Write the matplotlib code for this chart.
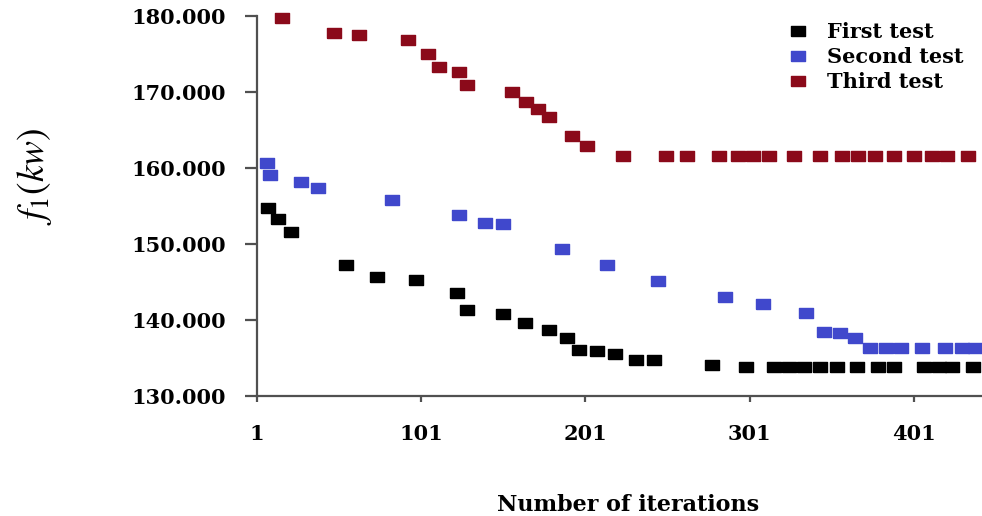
#!/usr/bin/env python3
# -*- encoding: utf-8 -*-

import matplotlib
matplotlib.use('Agg')
import matplotlib.pyplot as plt
from matplotlib.ticker import FormatStrFormatter

# iterations / objective values
first_it = [8, 14, 22, 55, 74, 98, 123, 129, 151, 164, 179, 190, 197, 208, 219, 232, 243,
            278, 299, 316, 325, 334, 344, 354, 366, 379, 389, 407, 416, 424, 437]
first_val = [154.8, 153.25, 151.6, 147.3, 145.6, 145.3, 143.55, 141.3, 140.75, 139.6, 138.7,
             137.6, 136.0, 135.9, 135.5, 134.7, 134.7, 134.1, 133.8, 133.8, 133.8, 133.8,
             133.8, 133.8, 133.8, 133.8, 133.8, 133.8, 133.8, 133.8, 133.8]

second_it = [7, 9, 28, 38, 83, 124, 140, 151, 187, 214, 245, 286, 309, 335, 346, 356, 365,
             374, 384, 393, 406, 420, 430, 438]
second_val = [160.6, 159.1, 158.2, 157.4, 155.75, 153.85, 152.7, 152.6, 149.4, 147.3, 145.1,
              143.0, 142.1, 140.9, 138.4, 138.3, 137.6, 136.3, 136.3, 136.3, 136.3, 136.3,
              136.3, 136.3]

third_it = [16, 48, 63, 93, 105, 112, 124, 129, 156, 165, 172, 179, 193, 202, 224, 250, 263,
            282, 294, 303, 313, 328, 344, 357, 367, 377, 389, 401, 412, 421, 434]
third_val = [179.7, 177.7, 177.5, 176.9, 175.0, 173.3, 172.6, 170.9, 170.0, 168.7, 167.7,
             166.75, 164.2, 162.9, 161.6, 161.6, 161.6, 161.6, 161.6, 161.6, 161.6, 161.6,
             161.6, 161.6, 161.6, 161.6, 161.6, 161.6, 161.6, 161.6, 161.6]

x_ticks = [1, 101, 201, 301, 401]
y_ticks = [130, 140, 150, 160, 170, 180]

def plot():
    plt.rcParams['mathtext.fontset'] = 'stix'
    fig = plt.figure(figsize = (9.82, 5.16), dpi = 100)
    ax = fig.add_axes([0.2617, 0.2326, 0.7383, 0.7364])

    box = [(-1.35, -1), (1.35, -1), (1.35, 1), (-1.35, 1), (-1.35, -1)]
    ax.plot(first_it, first_val, ls = 'none', marker = box, ms = 9.4, color = 'black',
            mec = 'black', label = 'First test', clip_on = False)
    ax.plot(second_it, second_val, ls = 'none', marker = box, ms = 9.4, color = '#4048cc',
            mec = '#4048cc', label = 'Second test', clip_on = False)
    ax.plot(third_it, third_val, ls = 'none', marker = box, ms = 9.4, color = '#8b0a1a',
            mec = '#8b0a1a', label = 'Third test', clip_on = False)

    ax.set_xlim(1, 442.4)
    ax.set_ylim(130, 180)
    ax.set_xticks(x_ticks)
    ax.set_yticks(y_ticks)
    ax.yaxis.set_major_formatter(FormatStrFormatter('%.3f'))

    for s in ['top', 'right']:
        ax.spines[s].set_visible(False)
    for s in ['left', 'bottom']:
        ax.spines[s].set_color('#505050')
        ax.spines[s].set_linewidth(1.6)

    font = {'family': 'DejaVu Serif', 'weight': 'bold', 'size': 15}
    ax.tick_params(axis = 'y', direction = 'out', length = 8.6, width = 1.6, color = '#505050', pad = 14)
    ax.tick_params(axis = 'x', direction = 'out', length = 4.5, width = 1.6, color = '#505050', pad = 16)
    for lbl in ax.get_xticklabels() + ax.get_yticklabels():
        lbl.set_fontproperties(font)

    fig.text(0.035, 1 - 176 / 516, r'$f_1(kw)$', rotation = 90, fontsize = 27,
             ha = 'center', va = 'center')
    fig.text(628 / 982, 1 - 505 / 516, 'Number of iterations', ha = 'center', va = 'center',
             family = 'DejaVu Serif', weight = 'bold', fontsize = 16)

    ax.legend(loc = 'upper left', bbox_to_anchor = (787.6 / 982, 1 - 22 / 516),
              bbox_transform = fig.transFigure, frameon = False, borderpad = 0,
              borderaxespad = 0, handlelength = 1, handletextpad = 0.89,
              labelspacing = 0.25, prop = font)

    fig.savefig('out.png', dpi = 100)

if __name__ == '__main__':
    plot()
